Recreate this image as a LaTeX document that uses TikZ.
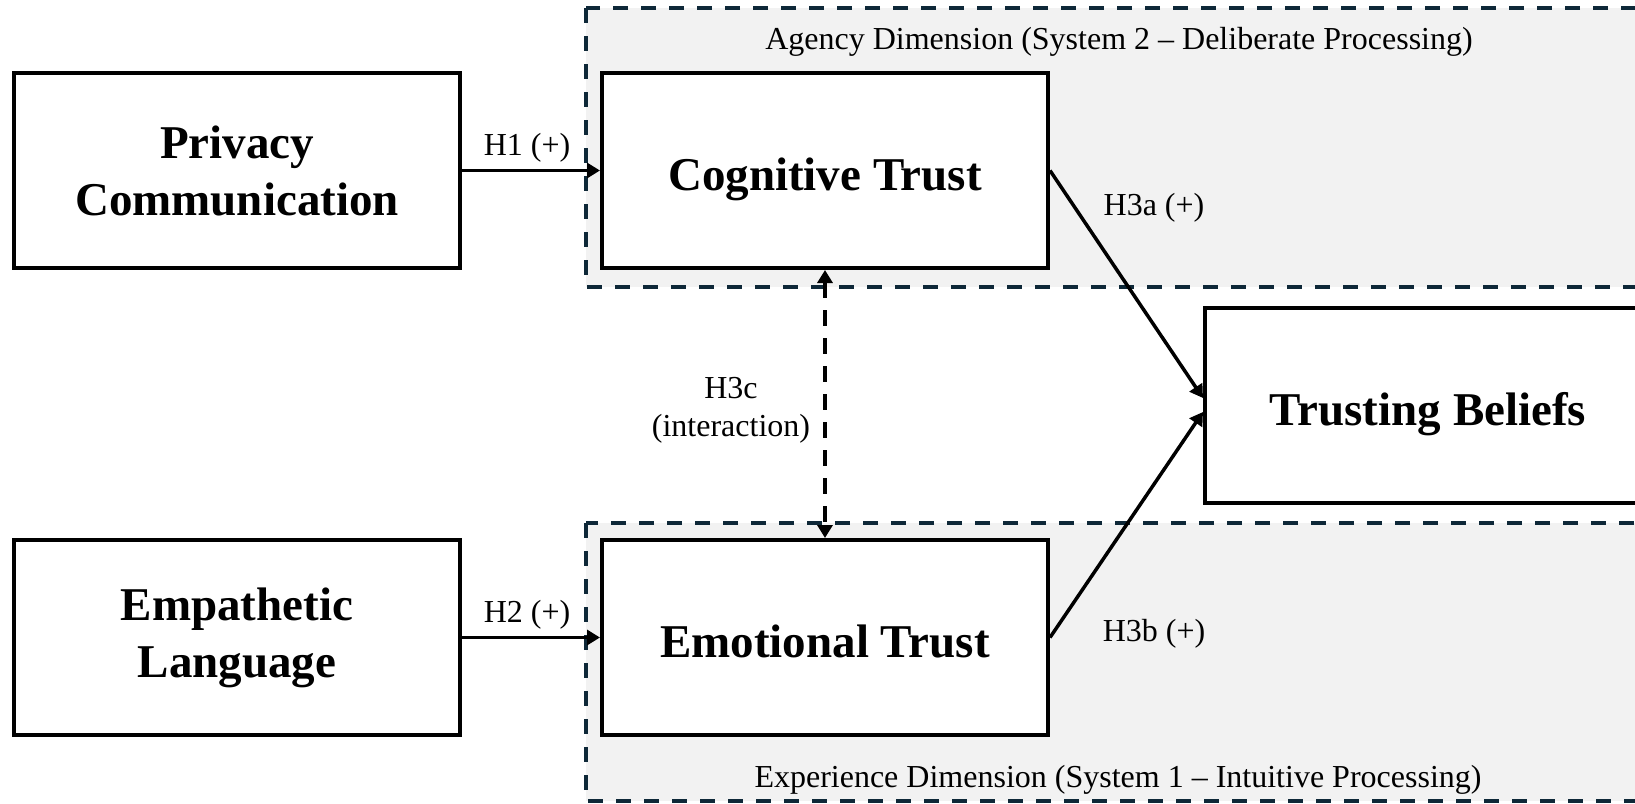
\documentclass[tikz,border=0pt]{standalone}
\usepackage{fontspec}
\setmainfont{Liberation Serif}
\usetikzlibrary{arrows.meta, positioning}
\definecolor{regionline}{RGB}{14,40,56}
\definecolor{regionfill}{RGB}{242,242,242}

\begin{document}
\begin{tikzpicture}[
  x=0.5pt, y=-0.5pt,
  construct/.style={rectangle, draw, fill=white, line width=2pt,
    minimum width=223pt, minimum height=97.5pt, align=center,
    font=\fontsize{23.5}{28.5}\selectfont\bfseries},
  single/.style={text height=21pt, text depth=1pt},
  region/.style={draw=regionline, fill=regionfill, line width=2pt,
    dash pattern=on 7.5pt off 6.5pt},
  edge/.style={-{Triangle[length=6.5pt, width=7.5pt]}, line width=1.75pt},
  hyp/.style={font=\fontsize{16}{19}\selectfont, align=center},
  dimlabel/.style={font=\fontsize{16}{19}\selectfont}
]
\clip (0,0) rectangle (1635,804);
\fill[white] (0,0) rectangle (1635,804);

% dimensions
\draw[region] (586,8) rectangle (1700,287);
\draw[region] (586,523) rectangle (1700,801);
\node[dimlabel] (agency) at (1119,42) {Agency Dimension (System 2 -- Deliberate Processing)};
\node[dimlabel] (experience) at (1118,780) {Experience Dimension (System 1 -- Intuitive Processing)};

% constructs
\node[construct] (pc) at (237,170.5) {Privacy\\Communication};
\node[construct, single, right=69pt of pc] (ct) {Cognitive Trust};
\node[construct, below=134pt of pc] (el) {Empathetic\\Language};
\node[construct, single, right=69pt of el] (et) {Emotional Trust};
\node[construct, single] (tb) at (1428,405) {Trusting Beliefs};

% paths
\draw[edge] (pc) -- (ct);
\draw[edge] (el) -- (et);
\draw[edge] (ct.east) -- ([yshift=3.5pt]tb.west);
\draw[edge] (et.east) -- ([yshift=-3.5pt]tb.west);
\draw[edge, {Triangle[length=6.5pt, width=7.5pt]}-{Triangle[length=6.5pt, width=7.5pt]},
  dash pattern=on 8pt off 6pt] (ct) -- (et);

\node[hyp] (h1) at (527,148) {H1 (+)};
\node[hyp] (h2) at (527,615) {H2 (+)};
\node[hyp] (h3a) at (1154,208) {H3a (+)};
\node[hyp] (h3b) at (1154,634) {H3b (+)};
\node[hyp] (h3c) at (731,410) {H3c\\(interaction)};
\end{tikzpicture}
\end{document}
